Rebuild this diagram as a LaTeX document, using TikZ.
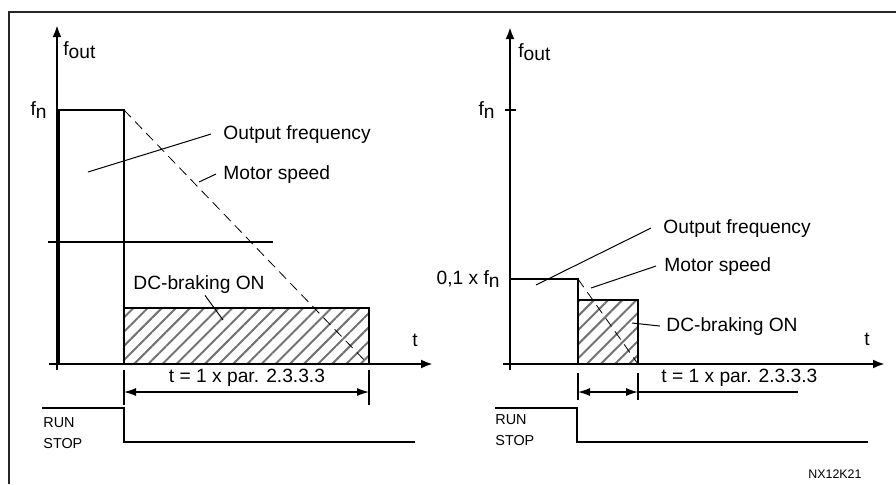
\documentclass[tikz,border=0pt]{standalone}
\usepackage{fontspec}
\setmainfont{Liberation Sans}
\usetikzlibrary{arrows.meta,patterns.meta}

\newcommand{\lowsub}[1]{\raisebox{-1.6pt}{#1}}

\begin{document}
\begin{tikzpicture}[x=0.5pt,y=-0.5pt,
  font=\fontsize{9.6}{11}\selectfont,
  lbl/.style={inner sep=0pt},
  small/.style={inner sep=0pt,font=\fontsize{7.2}{8}\selectfont},
  tiny/.style={inner sep=0pt,font=\fontsize{6.2}{7}\selectfont},
  frame/.style={black!85,line width=1.2pt},
  axis/.style={line width=1.2pt,-{Latex[length=6pt,width=4.5pt]}},
  ofreq/.style={line width=1.2pt},
  mspeed/.style={line width=0.4pt,dash pattern=on 5pt off 3pt},
  brake/.style={line width=1.2pt,pattern={Lines[angle=45,distance=5pt,line width=1pt]},pattern color=black!55},
  lead/.style={line width=0.5pt},
  tick/.style={line width=0.6pt},
  dim/.style={line width=0.6pt,{Latex[length=6pt,width=4pt]}-{Latex[length=6pt,width=4pt]}},
  runstop/.style={line width=1.2pt}]

\useasboundingbox (0,0) rectangle (896,484);
\draw[frame] (896,12) -- (9,12) -- (9,484);

% ================= LEFT: STOP WITH DC-BRAKING FROM f_n =================
\draw[brake] (124,308) rectangle (369,364);
\draw[axis] (57,370) -- (57,25);
\draw[axis] (49,364) -- (433,364);
\draw[ofreq] (59,364) -- (59,110) -- (124,110) -- (124,364);
\draw[ofreq] (48,242) -- (273,242);
\draw[mspeed] (124,110) -- (368,364);

\node[lbl,anchor=base west] (foutL) at (63,55) {f\lowsub{out}};
\node[lbl,anchor=base east] (fnL) at (47,115) {f\lowsub{n}};
\node[lbl,anchor=base west] (ofL) at (223,139) {Output frequency};
\node[lbl,anchor=base west] (msL) at (223,179) {Motor speed};
\node[lbl,anchor=base west] (dcL) at (133,289) {DC-braking ON};
\node[lbl,anchor=base west] (tL) at (412,346) {t};
\node[lbl,anchor=base] (durL) at (247,382) {t = 1 x par. 2.3.3.3};

\coordinate (ofLpt) at (88,172);
\coordinate (msLpt) at (199,182);
\coordinate (dcLpt) at (223,320);
\draw[lead] (ofLpt) -- ([xshift=-6pt]ofL.west);
\draw[lead] (msLpt) -- ([xshift=-3.5pt]msL.west);
\draw[lead] ([xshift=3pt,yshift=-1pt]dcL.south) -- (dcLpt);

% duration of the braking
\draw[tick] (124,370) -- (124,405);
\draw[tick] (369,370) -- (369,405);
\draw[dim] (124,392) -- (369,392);

% run / stop command
\draw[runstop] (42,408) -- (124,408) -- (124,442) -- (415,442);
\node[small,anchor=base west] (runL) at (43,427) {RUN};
\node[small,anchor=base west] (stopL) at (43,448) {STOP};

% ================= RIGHT: STOP WITH DC-BRAKING FROM 0,1 x f_n =================
\draw[brake] (578,300) rectangle (638,364);
\draw[axis] (510,370) -- (510,27);
\draw[axis] (503,364) -- (885,364);
\draw[ofreq] (505,110) -- (516,110);
\draw[ofreq] (510,279) -- (578,279) -- (578,364);
\draw[mspeed] (578,279) -- (638,364);

\node[lbl,anchor=base west] (foutR) at (518,57) {f\lowsub{out}};
\node[lbl,anchor=base east] (fnR) at (495,115) {f\lowsub{n}};
\node[lbl,anchor=base east] (tenthR) at (500,284) {0,1 x f\lowsub{n}};
\node[lbl,anchor=base west] (ofR) at (663,233) {Output frequency};
\node[lbl,anchor=base west] (msR) at (664,271) {Motor speed};
\node[lbl,anchor=base west] (dcR) at (666,331) {DC-braking ON};
\node[lbl,anchor=base west] (tR) at (864,345) {t};
\node[lbl,anchor=base west] (durR) at (661,382) {t = 1 x par. 2.3.3.3};

\coordinate (ofRpt) at (536,285);
\coordinate (msRpt) at (591,288);
\coordinate (dcRpt) at (632,323);
\draw[lead] (ofRpt) -- ([xshift=-6pt]ofR.west);
\draw[lead] (msRpt) -- ([xshift=-4pt]msR.west);
\draw[lead] (dcRpt) -- ([xshift=-3pt]dcR.west);

% duration of the braking
\draw[tick] (578,373) -- (578,400);
\draw[tick] (638,373) -- (638,400);
\draw[dim] (578,392) -- (638,392);
\draw[tick] (638,392) -- (798,392);

% run / stop command
\draw[runstop] (495,408) -- (577,408) -- (577,442) -- (868,442);
\node[small,anchor=base west] (runR) at (495,424) {RUN};
\node[small,anchor=base west] (stopR) at (495,445) {STOP};

\node[tiny,anchor=base] (code) at (835,478) {NX12K21};
\end{tikzpicture}
\end{document}
